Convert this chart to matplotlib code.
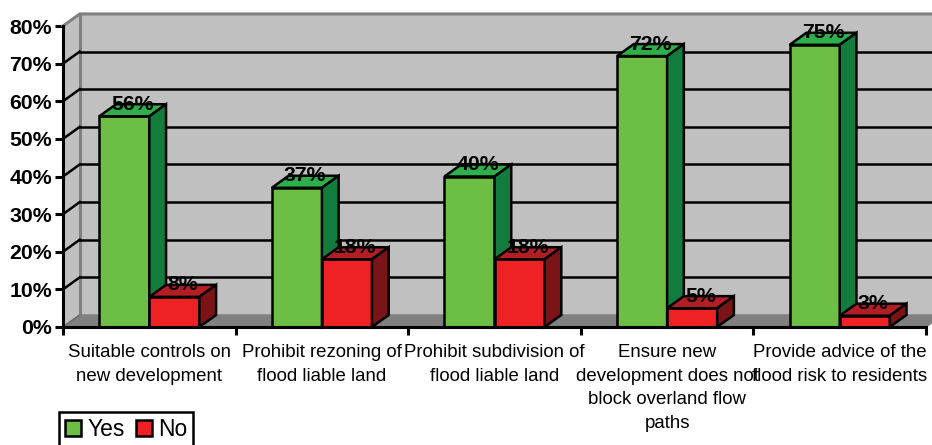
import matplotlib
matplotlib.use("Agg")
import matplotlib.pyplot as plt
from matplotlib.patches import Patch
import numpy as np

plt.rcParams["font.family"] = ["Liberation Sans", "DejaVu Sans"]

categories = [
    "Suitable controls on\nnew development",
    "Prohibit rezoning of\nflood liable land",
    "Prohibit subdivision of\nflood liable land",
    "Ensure new\ndevelopment does not\nblock overland flow\npaths",
    "Provide advice of the\nflood risk to residents",
]
yes_values = [56, 37, 40, 72, 75]
no_values = [8, 18, 18, 5, 3]
y_ticks = [0, 10, 20, 30, 40, 50, 60, 70, 80]

# depth of the fake 3D box, in data units
DX = 0.097
DY = 3.2
BAR_W = 0.29
EDGE = 1.8

fig = plt.figure(figsize=(9.32, 4.45), dpi=100)
ax = fig.add_axes([63 / 932, 1 - 327 / 445, 863 / 932, 301 / 445])
ax.set_xlim(0, 5)
ax.set_ylim(0, 80)
ax.patch.set_visible(False)
n = len(categories)

# walls and floor
ax.fill([DX, n + DX, n + DX, DX], [DY, DY, 80 + DY, 80 + DY], color="#c0c0c0", clip_on=False, zorder=1)
ax.fill([0, DX, DX, 0], [0, DY, 80 + DY, 80], color="#c0c0c0", clip_on=False, zorder=1)
ax.fill([0, n, n + DX, DX], [0, 0, DY, DY], color="#808080", clip_on=False, zorder=1)
ax.plot([0, DX, n + DX], [80, 80 + DY, 80 + DY], color="#808080", lw=2.2, clip_on=False, zorder=2)
ax.plot([DX, DX], [DY, 80 + DY], color="#808080", lw=2.2, clip_on=False, zorder=2)
ax.plot([0, DX], [0, DY], color="#6e6e6e", lw=1.2, clip_on=False, zorder=2)

# gridlines run across the back wall and down the side wall
for v in y_ticks[1:-1]:
    ax.plot([DX, n + DX], [v + DY, v + DY], color="black", lw=EDGE, clip_on=False, zorder=2)
    ax.plot([0, DX], [v, v + DY], color="black", lw=EDGE, clip_on=False, zorder=2)


def draw_bar(x, val, front, top, side, z):
    ax.bar(x, val, width=BAR_W, align="edge", color=front, edgecolor="black", linewidth=EDGE, zorder=z, clip_on=False)
    ax.fill([x, x + BAR_W, x + BAR_W + DX, x + DX], [val, val, val + DY, val + DY],
            facecolor=top, edgecolor="black", linewidth=EDGE, zorder=z, clip_on=False)
    ax.fill([x + BAR_W, x + BAR_W + DX, x + BAR_W + DX, x + BAR_W], [0, DY, val + DY, val],
            facecolor=side, edgecolor="black", linewidth=EDGE, zorder=z, clip_on=False)
    ax.text(x + BAR_W / 2 + DX / 2, val + DY, f"{val}%", ha="center", va="center",
            fontsize=15.3, fontweight="bold", color="black", zorder=z + 0.5, clip_on=False)


pos = np.arange(n)
for i in range(n):
    draw_bar(pos[i] + 0.21, yes_values[i], "#6cbe45", "#2db04b", "#127c3c", 3 + i * 2)
    draw_bar(pos[i] + 0.21 + BAR_W, no_values[i], "#ee2224", "#b31e24", "#7a1416", 4 + i * 2)

# axes
for s in ["top", "right"]:
    ax.spines[s].set_visible(False)
for s in ["left", "bottom"]:
    ax.spines[s].set_linewidth(2.2)
    ax.spines[s].set_zorder(20)
ax.set_yticks(y_ticks)
ax.set_yticklabels([f"{v}%" for v in y_ticks], fontsize=15.3, fontweight="bold")
ax.tick_params(axis="y", length=6, width=2.2, pad=2)
ax.set_xticks(np.arange(n + 1))
ax.set_xticklabels([])
ax.tick_params(axis="x", which="major", length=6, width=2.2)
ax.set_xticks(pos + 0.5, minor=True)
ax.set_xticklabels(categories, minor=True, fontsize=13.4, linespacing=1.5)
ax.tick_params(axis="x", which="minor", length=0, pad=12.5)

handles = [
    Patch(facecolor="#6cbe45", edgecolor="black", linewidth=EDGE, label="Yes"),
    Patch(facecolor="#ee2224", edgecolor="black", linewidth=EDGE, label="No"),
]
leg = fig.legend(handles=handles, loc="lower left", bbox_to_anchor=(59 / 932, -0.006), ncol=2,
                 fontsize=16.5, frameon=True, fancybox=False, edgecolor="black", framealpha=1,
                 handlelength=0.7, handleheight=0.7, handletextpad=0.25, columnspacing=0.5,
                 borderpad=0.28, borderaxespad=0)
leg.get_frame().set_linewidth(1.8)

fig.savefig("out.png", dpi=100)
